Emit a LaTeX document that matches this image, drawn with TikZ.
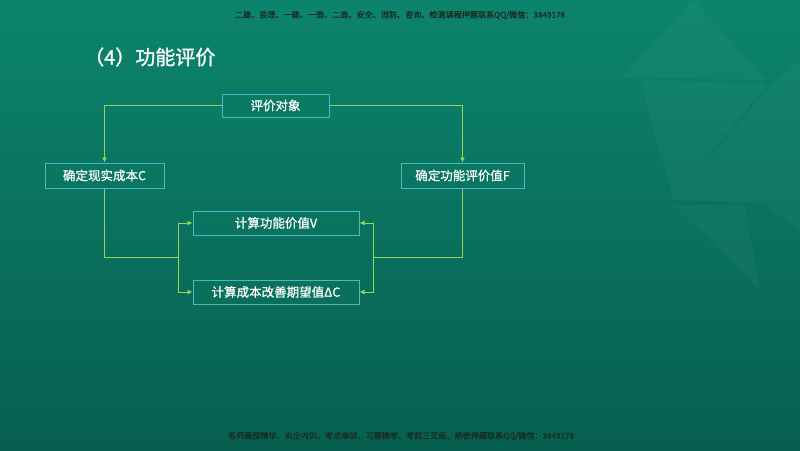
\documentclass[tikz,border=0pt]{standalone}
\usepackage{fontspec}
\setmainfont{Noto Sans CJK SC}
\newfontfamily\boldcjk{Noto Sans CJK SC}[FakeBold=1.2]
\newfontfamily\medcjk{Noto Sans CJK SC}[FakeBold=0.7]
\usetikzlibrary{arrows.meta}
\definecolor{bgtop}{HTML}{0C846C}
\definecolor{bgbot}{HTML}{075F4F}
\definecolor{boxline}{HTML}{45BCC4}
\definecolor{conn}{HTML}{8FD65C}
\definecolor{wm}{HTML}{1A2C24}
\tikzset{
  flowbox/.style={draw=boxline, line width=1pt, fill=bgtop!92!black, fill opacity=0.35, text opacity=1,
    text=white, inner sep=0pt, minimum height=24pt, font=\medcjk\fontsize{12.5}{14}\selectfont},
  link/.style={draw=conn, line width=0.9pt},
  arr/.style={link, -{Latex[length=5pt,width=5pt]}},
  wmtext/.style={text=wm, font=\medcjk\fontsize{8.1}{9}\selectfont, inner sep=0pt},
  facet/.style={fill=white, fill opacity=0.03, draw=none}
}
\begin{document}
\begin{tikzpicture}[x=1pt,y=-1pt]
\useasboundingbox (0,0) rectangle (800,450);
\shade[top color=bgtop, bottom color=bgbot] (0,0) rectangle (800,450);
% faint background facets
\fill[facet] (693,0) -- (767,80) -- (623,77) -- cycle;
\fill[facet] (767,90) -- (673,200) -- (763,203) -- cycle;
\fill[facet] (767,90) -- (763,203) -- (800,230) -- (800,60) -- cycle;
\fill[facet] (640,80) -- (673,200) -- (767,84) -- cycle;
\fill[facet] (673,205) -- (745,205) -- (760,290) -- cycle;

% watermarks
\node[wmtext] (wmtop) at (400,15) {二建、监理、一建、一造、二造、安全、消防、咨询、检测课程押题联系QQ/微信：3849178};
\node[wmtext] (wmbot) at (401,436) {名师面授精华、央企内训、考点串讲、习题模考、考前三页纸、绝密押题联系QQ/微信：3849178};

% title
\node[text=white, font=\boldcjk\fontsize{20}{23}\selectfont, inner sep=0pt, anchor=west] (title) at (84,57) {（4）功能评价};

% boxes
\node[flowbox, minimum width=107pt, minimum height=23pt] (obj) at (275.5,105.5) {评价对象};
\node[flowbox, minimum width=119pt, minimum height=25pt] (cost) at (104.5,175.5) {确定现实成本C};
\node[flowbox, minimum width=123pt, minimum height=25pt] (fval) at (462.5,175.5) {确定功能评价值F};
\node[flowbox, minimum width=166pt] (vval) at (276,223) {计算功能价值V};
\node[flowbox, minimum width=166pt] (dc) at (276,292) {计算成本改善期望值ΔC};

% connectors
\coordinate (lj) at (178,257);
\coordinate (rj) at (373,257);
\draw[arr] (obj.west) -| (cost.north);
\draw[arr] (obj.east) -| (fval.north);
\draw[link] (cost.south) |- (lj);
\draw[link] (fval.south) |- (rj);
\draw[arr] (lj) |- (vval.west);
\draw[arr] (lj) |- (dc.west);
\draw[arr] (rj) |- (vval.east);
\draw[arr] (rj) |- (dc.east);
\end{tikzpicture}
\end{document}
